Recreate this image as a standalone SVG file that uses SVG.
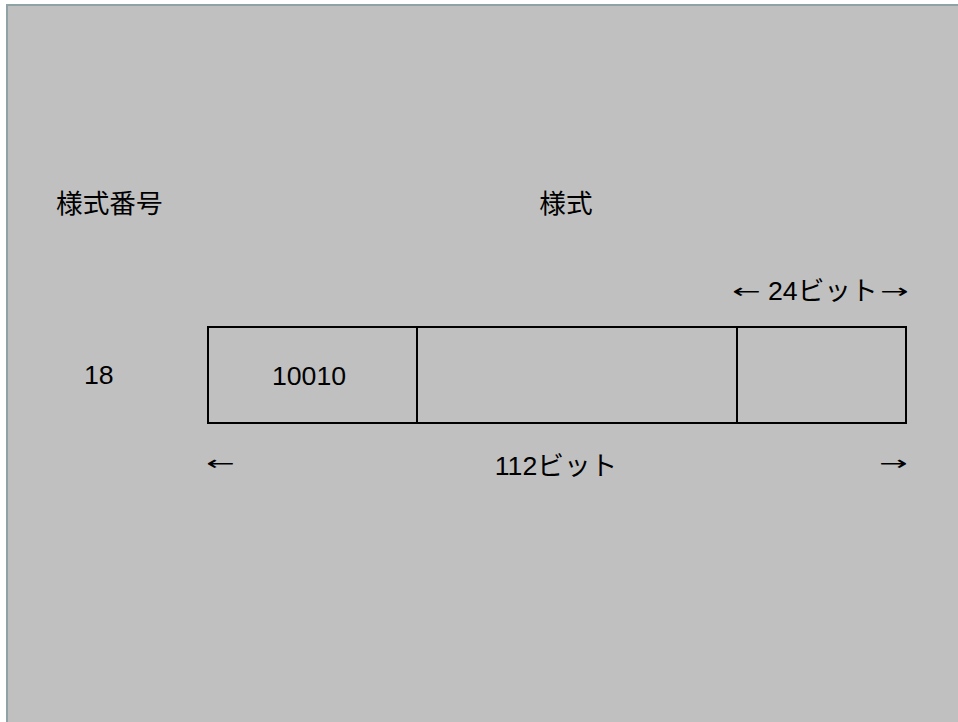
<svg xmlns="http://www.w3.org/2000/svg" width="958" height="722" viewBox="0 0 958 722">
<style>
  text { font-family: "Liberation Sans", "Noto Sans CJK JP", sans-serif; font-size: 26.67px; fill: #000; }
  text.arrow { font-family: "DejaVu Sans", sans-serif; font-size: 20px; text-anchor: middle; }
  .cell { fill: none; stroke: #000; stroke-width: 2; }
  .frame { stroke: #8fa3a6; stroke-width: 2; }
</style>
<rect x="0" y="0" width="958" height="722" fill="#ffffff"/>
<rect x="8" y="6" width="950" height="716" fill="#c0c0c0"/>
<line class="frame" x1="7" y1="4" x2="7" y2="722"/>
<line class="frame" x1="6" y1="5" x2="958" y2="5"/>

<g id="header-number"><text x="56" y="213">様式番号</text></g>
<g id="header-format"><text x="566" y="213" text-anchor="middle">様式</text></g>
<g id="label-18"><text x="84" y="384">18</text></g>

<g id="cell-1">
  <rect class="cell" x="208" y="327" width="209" height="96"/>
  <text x="309" y="385" text-anchor="middle">10010</text>
</g>
<g id="cell-2">
  <rect class="cell" x="417" y="327" width="320" height="96"/>
</g>
<g id="cell-3">
  <rect class="cell" x="737" y="327" width="169" height="96"/>
</g>

<g id="dimensions">
  <text class="arrow" transform="translate(746.5 298) scale(1.7 1)">←</text>
  <text x="768" y="300">24ビット</text>
  <text class="arrow" transform="translate(894.5 298) scale(1.7 1)">→</text>
  <text class="arrow" transform="translate(220.5 470) scale(1.7 1)">←</text>
  <text x="556" y="475" text-anchor="middle">112ビット</text>
  <text class="arrow" transform="translate(893.5 470) scale(1.7 1)">→</text>
</g>
</svg>
